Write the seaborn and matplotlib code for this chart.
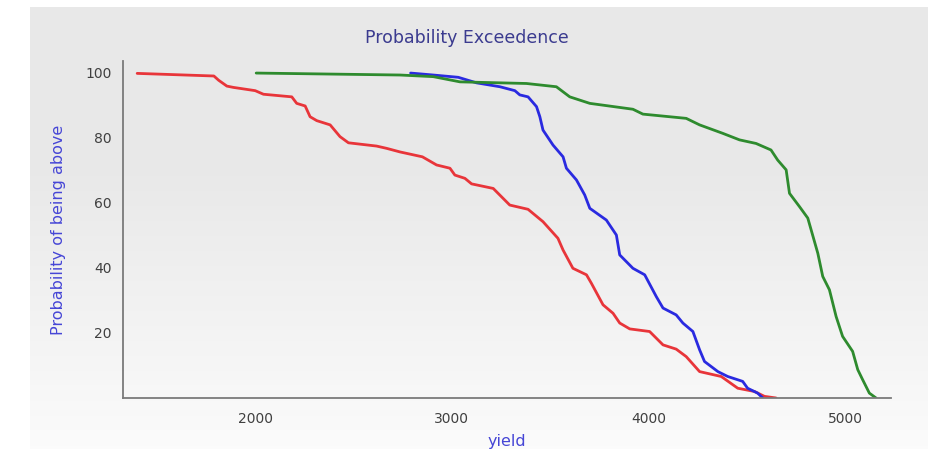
import numpy as np
import pandas as pd
import matplotlib
matplotlib.use("Agg")
import matplotlib.pyplot as plt
import seaborn as sns

# ---- data ----
red_x = [1400, 1790, 1814, 1856, 1889, 2000, 2042, 2186, 2211, 2254, 2279, 2313,
         2381, 2431, 2474, 2617, 2668, 2736, 2850, 2922, 2990, 3015, 3066, 3100,
         3210, 3294, 3387, 3463, 3539, 3565, 3615, 3684, 3709, 3768, 3819, 3853,
         3904, 4005, 4073, 4140, 4191, 4259, 4369, 4453, 4538, 4589, 4648]
red_y = [99.6, 98.8, 97.5, 95.7, 95.3, 94.3, 93.2, 92.4, 90.4, 89.6, 86.3, 85.1,
         83.8, 80.2, 78.3, 77.3, 76.6, 75.5, 74.0, 71.5, 70.5, 68.4, 67.4, 65.7,
         64.3, 59.2, 57.9, 54.1, 49.0, 45.4, 39.8, 37.8, 35.2, 28.6, 26.0, 23.0,
         21.2, 20.4, 16.3, 15.0, 12.7, 8.1, 6.6, 3.0, 2.0, 0.5, 0.0]

blue_x = [2790, 2905, 3032, 3125, 3244, 3320, 3345, 3387, 3430, 3447, 3463, 3514,
          3565, 3582, 3633, 3675, 3701, 3785, 3836, 3853, 3920, 3980, 4039, 4073,
          4140, 4174, 4225, 4259, 4284, 4352, 4402, 4478, 4503, 4554, 4580]
blue_y = [99.7, 99.1, 98.4, 96.7, 95.5, 94.3, 93.0, 92.4, 89.4, 86.3, 82.2, 77.6,
          74.0, 70.5, 66.9, 62.3, 58.2, 54.6, 50.0, 43.9, 39.8, 37.8, 31.1, 27.6,
          25.5, 23.0, 20.4, 14.8, 11.2, 8.1, 6.6, 5.1, 3.0, 1.5, 0.0]

green_x = [2005, 2736, 2905, 3041, 3244, 3379, 3531, 3599, 3701, 3920, 3971, 4191,
           4259, 4377, 4462, 4546, 4622, 4656, 4699, 4716, 4767, 4809, 4843, 4860,
           4885, 4919, 4953, 4986, 5037, 5063, 5088, 5122, 5156]
green_y = [99.7, 99.1, 98.6, 97.0, 96.7, 96.5, 95.5, 92.4, 90.4, 88.6, 87.1, 85.8,
           83.8, 81.2, 79.2, 78.1, 76.1, 73.0, 70.0, 62.8, 58.7, 55.2, 48.0, 44.4,
           37.3, 33.2, 25.0, 18.9, 14.3, 8.7, 5.6, 1.5, 0.0]

series_names = ["red", "blue", "green"]
series_colors = {"red": "#e8353a", "blue": "#2a2ae0", "green": "#2e8b2e"}
x_ticks = [2000, 3000, 4000, 5000]
y_ticks = [20, 40, 60, 80, 100]

title = "Probability Exceedence"
x_label = "yield"
y_label = "Probability of being above"

frames = []
for name, xs, ys in zip(series_names, [red_x, blue_x, green_x], [red_y, blue_y, green_y]):
    frames.append(pd.DataFrame({"yield": xs, "prob": ys, "series": name}))
df = pd.concat(frames, ignore_index=True)

# ---- figure ----
sns.set_style("white")
plt.rcParams["font.family"] = ["DejaVu Sans"]

W, H = 935, 449
fig = plt.figure(figsize=(W / 100, H / 100), dpi=100, facecolor="white")

# gradient panel background
bg = fig.add_axes([30 / W, 0, (928 - 30) / W, (449 - 7) / H], zorder=-5)
grad = np.linspace(0, 1, 256).reshape(-1, 1)
top_c = np.array([0.910, 0.910, 0.910])
bot_c = np.array([0.985, 0.985, 0.985])
w = np.clip((grad - 0.35) / 0.65, 0, 1)
img = top_c * (1 - w) + bot_c * w
bg.imshow(img.reshape(256, 1, 3), aspect="auto", extent=[0, 1, 0, 1])
bg.set_axis_off()

ax = fig.add_axes([123 / W, 1 - 398 / H, (891 - 123) / W, (398 - 61) / H])
ax.set_facecolor("none")

sns.lineplot(data=df, x="yield", y="prob", hue="series", palette=series_colors,
             estimator=None, sort=False, linewidth=2.0, legend=False, ax=ax)
for ln in ax.get_lines():
    ln.set_solid_joinstyle("round")
    ln.set_solid_capstyle("round")

ax.set_xlim(1328, 5232)
ax.set_ylim(0, 103.4)
ax.set_xticks(x_ticks)
ax.set_yticks(y_ticks)

for s in ["top", "right"]:
    ax.spines[s].set_visible(False)
for s in ["left", "bottom"]:
    ax.spines[s].set_color("#7a7a7a")
    ax.spines[s].set_linewidth(1.3)

ax.tick_params(axis="both", direction="out", length=4, width=1, color="#7a7a7a",
               labelsize=10, labelcolor="#404040", pad=4)
ax.tick_params(axis="x", pad=6)

fig.text(467 / W, 1 - 38 / H, title, color="#3b3b8f", fontsize=12.5,
         ha="center", va="center")
ax.set_xlabel(x_label, color="#4646d6", fontsize=11.5, labelpad=6)
ax.set_ylabel(y_label, color="#4646d6", fontsize=11.5, labelpad=14)

fig.savefig("out.png", dpi=100, facecolor="white")
